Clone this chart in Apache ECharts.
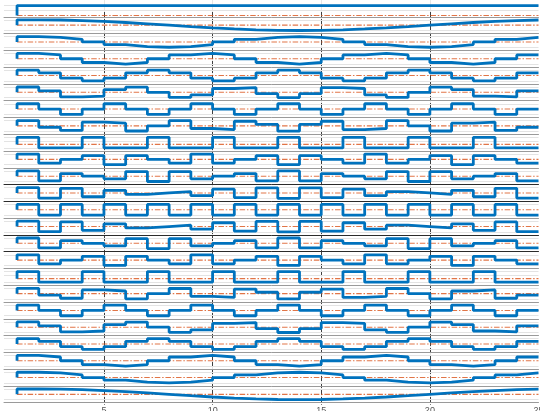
<!DOCTYPE html>
<html>
<head>
<meta charset="utf-8">
<script src="https://cdn.jsdelivr.net/npm/echarts@6/dist/echarts.min.js"></script>
<style>
  html, body { margin: 0; padding: 0; background: #fff; }
  #chart { width: 540px; height: 411px; }
</style>
</head>
<body>
<div id="chart"></div>
<script>
// tick labels on the bottom axis
var xTicks = [5, 10, 15, 20, 25];

// one array per row pattern (24 samples each)
var k0  = [1,1,1,1,1,1,1,1,1,1,1,1,1,1,1,1,1,1,1,1,1,1,1,1];
var k1  = [1,0.97,0.87,0.71,0.5,0.26,0,-0.26,-0.5,-0.71,-0.87,-0.97,-1,-0.97,-0.87,-0.71,-0.5,-0.26,0,0.26,0.5,0.71,0.87,0.97];
var k2  = [1,0.87,0.5,0,-0.5,-0.87,-1,-0.87,-0.5,0,0.5,0.87,1,0.87,0.5,0,-0.5,-0.87,-1,-0.87,-0.5,0,0.5,0.87];
var k3  = [1,0.71,0,-0.71,-1,-0.71,0,0.71,1,0.71,0,-0.71,-1,-0.71,0,0.71,1,0.71,0,-0.71,-1,-0.71,0,0.71];
var k4  = [1,0.5,-0.5,-1,-0.5,0.5,1,0.5,-0.5,-1,-0.5,0.5,1,0.5,-0.5,-1,-0.5,0.5,1,0.5,-0.5,-1,-0.5,0.5];
var k5  = [1,0.26,-0.87,-0.71,0.5,0.97,0,-0.97,-0.5,0.71,0.87,-0.26,-1,-0.26,0.87,0.71,-0.5,-0.97,0,0.97,0.5,-0.71,-0.87,0.26];
var k6  = [1,0,-1,0,1,0,-1,0,1,0,-1,0,1,0,-1,0,1,0,-1,0,1,0,-1,0];
var k7  = [1,-0.26,-0.87,0.71,0.5,-0.97,0,0.97,-0.5,-0.71,0.87,0.26,-1,0.26,0.87,-0.71,-0.5,0.97,0,-0.97,0.5,0.71,-0.87,-0.26];
var k8  = [1,-0.5,-0.5,1,-0.5,-0.5,1,-0.5,-0.5,1,-0.5,-0.5,1,-0.5,-0.5,1,-0.5,-0.5,1,-0.5,-0.5,1,-0.5,-0.5];
var k9  = [1,-0.71,0,0.71,-1,0.71,0,-0.71,1,-0.71,0,0.71,-1,0.71,0,-0.71,1,-0.71,0,0.71,-1,0.71,0,-0.71];
var k10 = [1,-0.87,0.5,0,-0.5,0.87,-1,0.87,-0.5,0,0.5,-0.87,1,-0.87,0.5,0,-0.5,0.87,-1,0.87,-0.5,0,0.5,-0.87];
var k11 = [1,-0.97,0.87,-0.71,0.5,-0.26,0,0.26,-0.5,0.71,-0.87,0.97,-1,0.97,-0.87,0.71,-0.5,0.26,0,-0.26,0.5,-0.71,0.87,-0.97];
var k12 = [1,-1,1,-1,1,-1,1,-1,1,-1,1,-1,1,-1,1,-1,1,-1,1,-1,1,-1,1,-1];

// rows top to bottom
var rowWaves = [k0,k1,k2,k3,k4,k5,k6,k7,k8,k9,k10,k11,k12,k11,k10,k9,k8,k7,k6,k5,k4,k3,k2,k1];

var darkRows = [10, 11, 13, 14];   // rows whose bottom border looks black

var ROW_H = 16.78, LEFT = 4, RIGHT = 1.5, BOTTOM = 411 - 402.7;
var chart = echarts.init(document.getElementById('chart'));
var grid = [], xAxis = [], yAxis = [], series = [];

// background: light vertical grid + tick labels
grid.push({ left: -4.6, right: RIGHT, top: 0, bottom: BOTTOM, outerBoundsMode: 'none' });
xAxis.push({
  gridIndex: 0, type: 'value', min: 0, max: 25, interval: 5,
  axisLine: { show: false }, axisTick: { show: false },
  splitLine: { show: true, showMinLine: false, showMaxLine: false, lineStyle: { color: '#e6e6e6', width: 1 } },
  axisLabel: {
    color: '#555', fontSize: 9, margin: 3, fontFamily: 'Liberation Sans, Arial, sans-serif',
    formatter: function (v) { return xTicks.indexOf(v) >= 0 ? String(v) : ''; }
  }
});
yAxis.push({ gridIndex: 0, type: 'value', min: 0, max: 1, show: false });

// dark dashed verticals
grid.push({ left: -4.6, right: RIGHT, top: 12, bottom: BOTTOM - 2, outerBoundsMode: 'none' });
xAxis.push({
  gridIndex: 1, type: 'value', min: 0, max: 25, interval: 5,
  axisLine: { show: false }, axisTick: { show: false }, axisLabel: { show: false },
  splitLine: { show: true, showMinLine: false, showMaxLine: false, lineStyle: { color: '#2e2e2e', width: 1, type: [5, 2], opacity: 0.9 } }
});
yAxis.push({ gridIndex: 1, type: 'value', min: 0, max: 1, show: false });

rowWaves.forEach(function (w, r) {
  var gi = r + 2;
  grid.push({ left: LEFT, right: RIGHT, top: r * ROW_H, height: ROW_H, outerBoundsMode: 'none' });
  xAxis.push({
    gridIndex: gi, type: 'value', min: 0.4, max: 25,
    axisLine: { show: true, onZero: false, lineStyle: { color: darkRows.indexOf(r) >= 0 ? '#2b2b2b' : '#9a9a9a', width: 1 } },
    axisTick: { show: false }, axisLabel: { show: false }, splitLine: { show: false }
  });
  var dmin = Math.min(0, Math.min.apply(null, w));
  var dmax = Math.max.apply(null, w);
  var span = dmax - dmin;
  var ymin = dmin - span * 0.29, ymax = dmax + span * 0.29;
  if (r === 0) { ymin = -0.12; ymax = 1.55; }
  yAxis.push({ gridIndex: gi, type: 'value', min: ymin, max: ymax, show: false });

  // light horizontal guide lines at the row's ticks
  var step = span >= 2 ? 1 : 0.5;
  var guides = [];
  for (var v = Math.ceil(dmin / step) * step; v <= dmax + 1e-9; v += step) {
    if (Math.abs(v) > 1e-9) guides.push({ yAxis: v });
  }

  // zero line (dash-dot) carrying the light guide lines
  series.push({
    type: 'line', xAxisIndex: gi, yAxisIndex: gi, z: 1,
    data: [[1, 0], [25, 0]], symbol: 'none', silent: true,
    lineStyle: { color: '#D95319', width: 1.1, type: [5.5, 1.8, 1.5, 1.8], opacity: 0.8 },
    markLine: {
      z: 0, silent: true, symbol: ['none', 'none'], label: { show: false },
      lineStyle: { color: '#e3e3e3', type: 'solid', width: 1 },
      data: guides
    }
  });

  // the stairs
  var pts = [[1, 0]];
  w.forEach(function (val, i) { pts.push([i + 1, val]); });
  pts.push([w.length + 1, w[w.length - 1]]);
  series.push({
    type: 'line', xAxisIndex: gi, yAxisIndex: gi, z: 6,
    step: 'end', data: pts, symbol: 'none', silent: true,
    lineStyle: { color: '#0072BD', width: 2.8 }
  });
});

chart.setOption({
  animation: false,
  backgroundColor: '#ffffff',
  grid: grid,
  xAxis: xAxis,
  yAxis: yAxis,
  series: series
});
</script>
</body>
</html>
